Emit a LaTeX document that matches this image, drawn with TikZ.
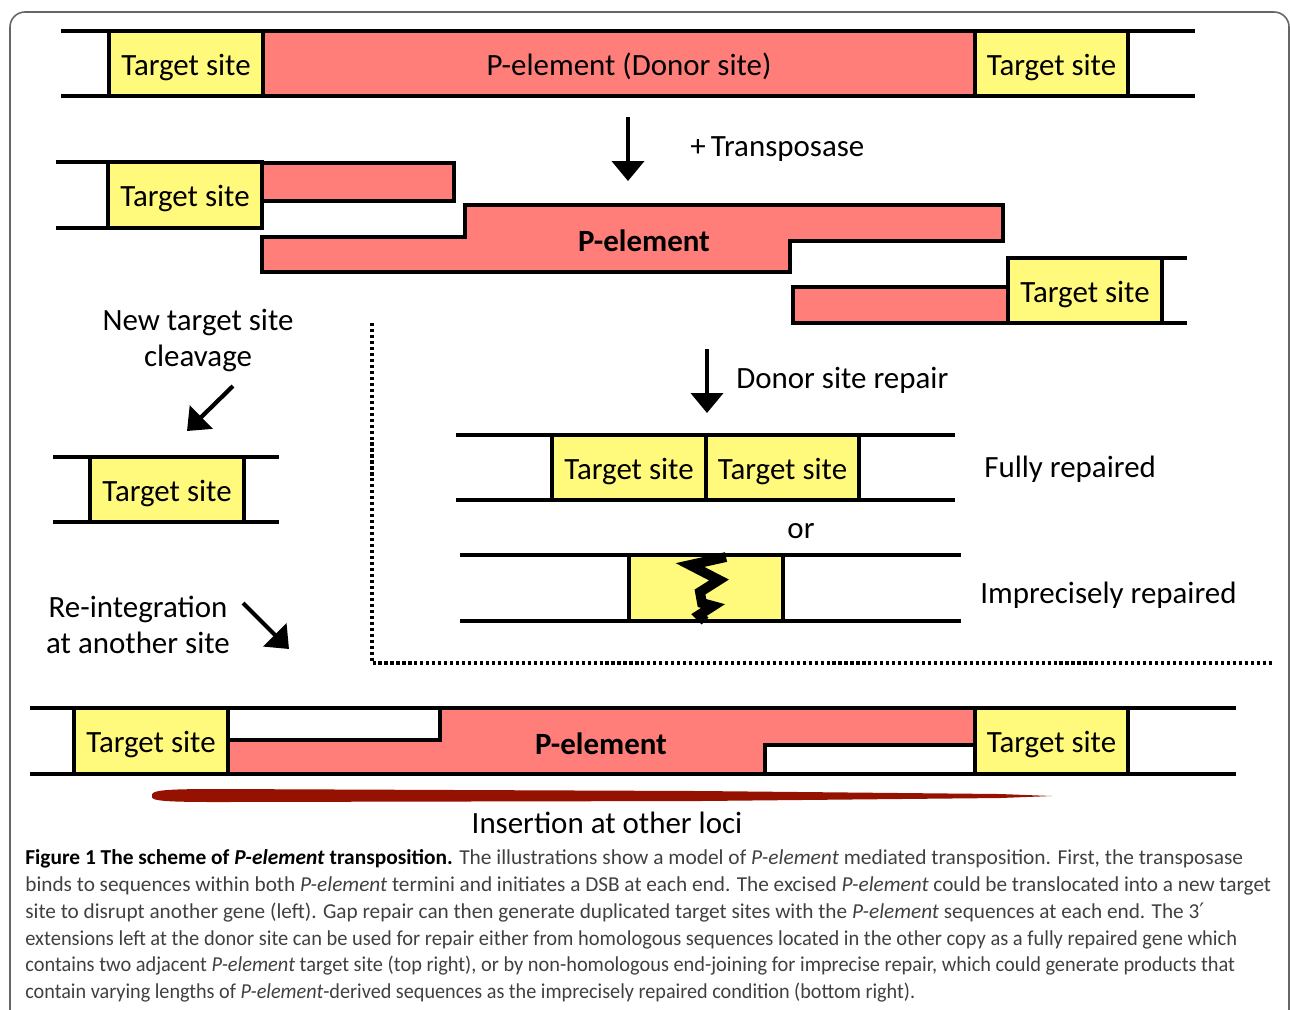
\documentclass[tikz,border=0pt]{standalone}
\usepackage{fontspec}
\setmainfont{Carlito}
\newfontfamily\primefont{DejaVu Sans}
\usetikzlibrary{arrows.meta,fit}
\definecolor{tyel}{HTML}{FFFA7C}
\definecolor{pred}{HTML}{FF7E79}
\definecolor{brushred}{HTML}{951200}
\definecolor{captgray}{HTML}{404040}
\newcommand\labfont{\fontsize{17.6}{20}\selectfont}
\newcommand\capfont{\fontsize{12.1}{14}\selectfont}
\newcommand\capw[2]{\resizebox{#1}{\height}{#2}}
\begin{document}
\begin{tikzpicture}[x=0.02cm,y=-0.02cm,
  dna/.style={line width=2.2pt},
  tlab/.style={font=\labfont, inner sep=0pt, text height=0.46cm, text depth=0pt},
  tbox/.style={draw, line width=2.2pt, fill=tyel, inner sep=0pt, label={[tlab]center:#1}},
  ebox/.style={draw, line width=2.2pt, fill=tyel, inner sep=0pt},
  pbox/.style={draw, line width=2.2pt, fill=pred, inner sep=0pt, label={[tlab, xshift=0.2cm]center:#1}},
  pel/.style={draw, line width=2.2pt, fill=pred, line join=miter},
  lbl/.style={font=\labfont, anchor=base, inner sep=0pt},
  boldlbl/.style={font=\labfont\bfseries, anchor=base, inner sep=0pt},
  bigarrow/.style={line width=2.4pt, -{Triangle[length=0.4cm,width=0.64cm]}},
  dotline/.style={line width=1.8pt, dash pattern=on 1.8pt off 1.6pt},
  captline/.style={font=\capfont, anchor=base west, inner sep=0pt, text=captgray}
]
\useasboundingbox (0,0) rectangle (1290,1009);
% frame
\draw[gray!80!black, line width=0.9pt, rounded corners=0.3cm] (10,1040) -- (10,12) -- (1289,12) -- (1289,1040);

% ---- Row 1 : donor site
\draw[dna] (61,31) -- (1195,31);
\draw[dna] (61,96) -- (1195,96);
\node[pbox=P-element (Donor site), fit={(263,31)(975,96)}] (p0) {};
\node[tbox=Target site, fit={(109,31)(263,96)}] (t1) {};
\node[tbox=Target site, fit={(975,31)(1128,96)}] (t2) {};

% arrow 1
\coordinate (a1s) at (628,117);
\coordinate (a1e) at (628,181);
\draw[bigarrow] (a1s) -- (a1e);
\node[lbl, anchor=base west] (transp) at (690,156) {+\,Transposase};

% ---- Row 2 : excision
\draw[dna] (56,162) -- (108,162);
\draw[dna] (56,228) -- (108,228);
\draw[pel] (262,163) rectangle (454,201);
\draw[pel] (465,205) -- (1003,205) -- (1003,241) -- (790,241) -- (790,272) -- (262,272) -- (262,237) -- (465,237) -- cycle;
\node[boldlbl] (pe1) at (644,251) {P-element};
\node[tbox=Target site, fit={(108,162)(262,228)}] (t3) {};
\draw[dna] (1162,258) -- (1187,258);
\draw[dna] (1162,323) -- (1187,323);
\draw[pel] (793,287) rectangle (1008,323);
\node[tbox=Target site, fit={(1008,258)(1162,323)}] (t4) {};

% ---- Left column
\node[lbl] (nts) at (198,330) {New target site};
\node[lbl] (clv) at (198,366) {cleavage};
\coordinate (a3s) at (233,386);
\coordinate (a3e) at (187,431);
\draw[bigarrow] (a3s) -- (a3e);
\draw[dna] (53,457) -- (279,457);
\draw[dna] (53,522) -- (279,522);
\node[tbox=Target site, fit={(90,457)(244,522)}] (t5) {};
\node[lbl] (reint) at (138,617) {Re-integration};
\node[lbl] (another) at (138,653) {at another site};
\coordinate (a4s) at (243,603);
\coordinate (a4e) at (289,649);
\draw[bigarrow] (a4s) -- (a4e);

% ---- Dotted separator
\draw[dotline] (372,323) -- (372,663) -- (1273,663);

% ---- Donor site repair
\coordinate (a2s) at (707,349);
\coordinate (a2e) at (707,413);
\draw[bigarrow] (a2s) -- (a2e);
\node[lbl, anchor=base west] (dsr) at (736,388) {Donor site repair};

\draw[dna] (456,435) -- (955,435);
\draw[dna] (456,500) -- (955,500);
\node[tbox=Target site, fit={(552,435)(706,500)}] (t6) {};
\node[tbox=Target site, fit={(706,435)(859,500)}] (t7) {};
\node[lbl, anchor=base west] (fully) at (984,477) {Fully repaired};
\node[lbl] (or) at (801,538) {or};

\draw[dna] (460,555) -- (961,555);
\draw[dna] (460,621) -- (961,621);
\node[ebox, fit={(629,555)(783,621)}] (t8) {};
\draw[line width=5.6pt, line join=miter, miter limit=4] (726,557) -- (690,565) -- (719,580) -- (700,592) -- (702,603) -- (713,606) -- (699,615) -- (705,621);
\node[lbl, anchor=base west] (impr) at (980,603) {Imprecisely repaired};

% ---- Bottom row : insertion
\draw[dna] (30,708) -- (1236,708);
\draw[dna] (30,774) -- (1236,774);
\draw[pel] (440,708) -- (975,708) -- (975,745) -- (765,745) -- (765,774) -- (228,774) -- (228,740) -- (440,740) -- cycle;
\node[boldlbl] (pe2) at (601,754) {P-element};
\node[tbox=Target site, fit={(74,708)(228,774)}] (t9) {};
\node[tbox=Target site, fit={(975,708)(1128,774)}] (t10) {};

% brush stroke
\fill[brushred] (152,796) .. controls (150,790) and (165,789) .. (220,789)
  -- (700,791) -- (1000,794) -- (1052,796) -- (1000,798) -- (700,801) -- (220,802)
  .. controls (165,802) and (150,801) .. (152,796);
\node[lbl] (ins) at (607,833) {Insertion at other loci};

% ---- Caption
\node[captline] (c1) at (25,864) {\capw{24.36cm}{\textcolor{black}{\textbf{Figure 1 The scheme of \textit{P-element} transposition.}} The illustrations show a model of \textit{P-element} mediated transposition. First, the transposase}};
\node[captline] (c2) at (25,891) {\capw{24.92cm}{binds to sequences within both \textit{P-element} termini and initiates a DSB at each end. The excised \textit{P-element} could be translocated into a new target}};
\node[captline] (c3) at (25,918) {\capw{23.58cm}{site to disrupt another gene (left). Gap repair can then generate duplicated target sites with the \textit{P-element} sequences at each end. The 3{\primefont ′}}};
\node[captline] (c4) at (25,945) {\capw{24.24cm}{extensions left at the donor site can be used for repair either from homologous sequences located in the other copy as a fully repaired gene which}};
\node[captline] (c5) at (25,971) {\capw{24.20cm}{contains two adjacent \textit{P-element} target site (top right), or by non-homologous end-joining for imprecise repair, which could generate products that}};
\node[captline] (c6) at (25,998) {\capw{17.80cm}{contain varying lengths of \textit{P-element}-derived sequences as the imprecisely repaired condition (bottom right).}};
\end{tikzpicture}
\end{document}
